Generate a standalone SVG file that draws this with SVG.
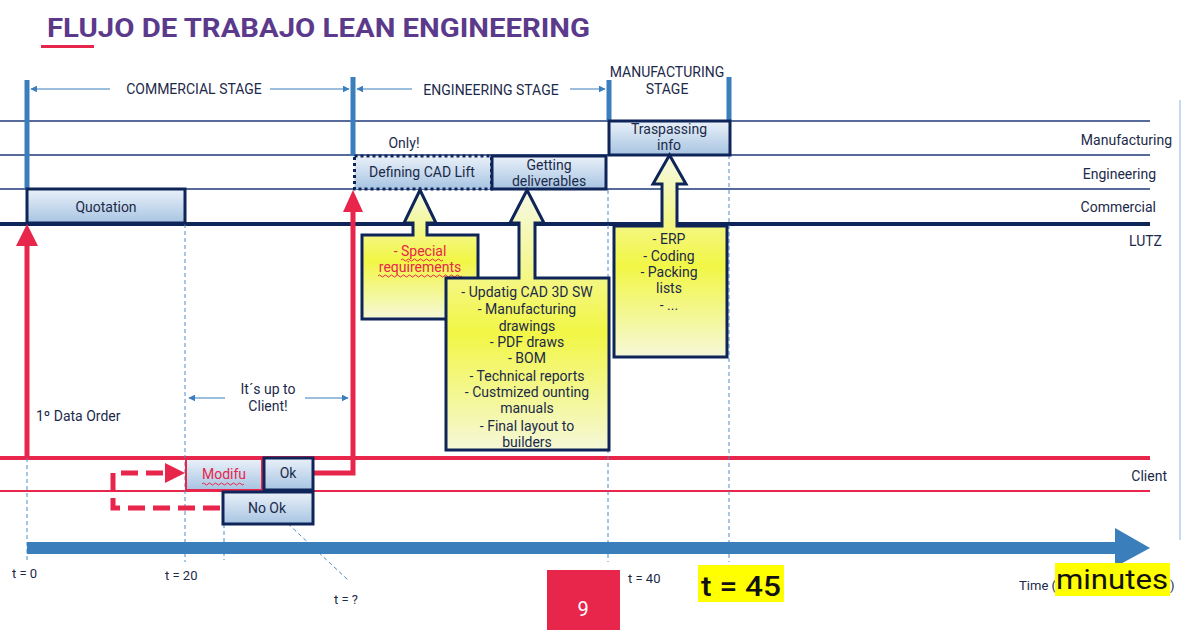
<svg xmlns="http://www.w3.org/2000/svg" width="1200" height="630" viewBox="0 0 1200 630">
<defs>
<linearGradient id="gBlue" x1="0" y1="0" x2="0" y2="1"><stop offset="0" stop-color="#EAF1F9"/><stop offset="1" stop-color="#A7C4E2"/></linearGradient>
<linearGradient id="gYel" x1="0" y1="0" x2="0" y2="1"><stop offset="0" stop-color="#F6F8E6"/><stop offset="0.55" stop-color="#F2F645"/><stop offset="1" stop-color="#F5F8D8"/></linearGradient>
<marker id="mh" viewBox="0 0 10 10" refX="9" refY="5" markerWidth="7" markerHeight="7" orient="auto-start-reverse" markerUnits="userSpaceOnUse"><path d="M0,0 L10,5 L0,10 Z" fill="#3A7EBB"/></marker>
<style>
text{font-family:Roboto,"Liberation Sans",sans-serif;fill:#1C2A4A;}
.t13{font-size:14px;text-anchor:middle;}
.lane{font-size:14px;text-anchor:end;}
.tm{font-size:13px;}
.lnav{stroke:#1F3A78;stroke-width:1.6;}
.box{fill:url(#gBlue);stroke:#0F2459;stroke-width:3;}
.call{fill:url(#gYel);stroke:#0F2459;stroke-width:3;}
.bar{stroke:#3A7EBB;stroke-width:5;}
.dash{stroke:#4A8CC8;stroke-width:1;stroke-dasharray:4 3;fill:none;}
.sarr{stroke:#3A7EBB;stroke-width:1.2;marker-end:url(#mh);}
.red{stroke:#E8254B;fill:none;}
.wavy{stroke:#E8254B;stroke-width:1;fill:none;}
</style>
</defs>
<rect width="1200" height="630" fill="#FFFFFF"/>
<!-- title -->
<text x="47" y="37" style="font-size:25px;font-weight:bold;fill:#5B3A8C" textLength="543" lengthAdjust="spacingAndGlyphs">FLUJO DE TRABAJO LEAN ENGINEERING</text>
<rect x="41" y="45" width="53" height="3" fill="#E8254B"/>
<line x1="1180" y1="100" x2="1180" y2="540" stroke="#8DB3DD" stroke-width="1"/>

<g id="lanes">
<line class="lnav" x1="0" y1="121" x2="1150" y2="121"/>
<line class="lnav" x1="0" y1="155" x2="1150" y2="155"/>
<line class="lnav" x1="0" y1="189" x2="1150" y2="189"/>
<line x1="0" y1="224" x2="1150" y2="224" stroke="#0F2459" stroke-width="4"/>
<line x1="0" y1="458" x2="1150" y2="458" stroke="#E8254B" stroke-width="4"/>
<line x1="0" y1="491" x2="1150" y2="491" stroke="#E8254B" stroke-width="2"/>
<text class="lane" x="1172" y="145">Manufacturing</text>
<text class="lane" x="1156" y="179">Engineering</text>
<text class="lane" x="1156" y="212">Commercial</text>
<text class="lane" x="1162" y="246">LUTZ</text>
<text class="lane" x="1167" y="481">Client</text>
</g>

<g id="guides">
<line class="dash" x1="27" y1="458" x2="27" y2="562"/>
<line class="dash" x1="185" y1="224" x2="185" y2="562"/>
<line class="dash" x1="224" y1="524" x2="224" y2="560"/>
<line class="dash" x1="608" y1="190" x2="608" y2="562"/>
<line class="dash" x1="729" y1="155" x2="729" y2="562"/>
<line class="dash" x1="283" y1="519" x2="348" y2="580"/>
</g>

<g id="stages">
<line class="bar" x1="27" y1="80" x2="27" y2="189"/>
<line class="bar" x1="353" y1="77" x2="353" y2="156"/>
<line class="bar" x1="609" y1="80" x2="609" y2="121"/>
<line class="bar" x1="729" y1="77" x2="729" y2="121"/>
<line class="sarr" x1="110" y1="89" x2="31" y2="89"/>
<line class="sarr" x1="270" y1="89" x2="349" y2="89"/>
<line class="sarr" x1="412" y1="89" x2="357" y2="89"/>
<line class="sarr" x1="570" y1="89" x2="605" y2="89"/>
<text class="t13" x="194" y="94">COMMERCIAL STAGE</text>
<text class="t13" x="491" y="95">ENGINEERING STAGE</text>
<text class="t13" x="667" y="77">MANUFACTURING</text>
<text class="t13" x="667" y="94">STAGE</text>
<text class="t13" x="404" y="148">Only!</text>
</g>

<g id="quotation">
<rect class="box" x="27" y="189" width="158" height="34"/>
<text class="t13" x="106" y="212">Quotation</text>
</g>
<g id="defining-cad">
<rect x="354.5" y="156" width="137" height="33" fill="url(#gBlue)" stroke="#0F2459" stroke-width="3" stroke-dasharray="3 3"/>
<text class="t13" x="422" y="177">Defining CAD Lift</text>
</g>
<g id="getting-deliverables">
<rect class="box" x="492" y="156" width="114" height="33"/>
<text class="t13" x="549" y="170">Getting</text>
<text class="t13" x="549" y="186">deliverables</text>
</g>
<g id="traspassing">
<rect class="box" x="609" y="121" width="121" height="34"/>
<text class="t13" x="669" y="134">Traspassing</text>
<text class="t13" x="669" y="150">info</text>
</g>

<g id="special-req">
<path class="call" d="M362,235 H413 V223 H404 L420,190 L436,223 H427 V235 H478 V319 H362 Z"/>
<text class="t13" x="420" y="256" style="fill:#E8254B">- Special</text>
<text class="t13" x="420" y="272" style="fill:#E8254B">requirements</text>
<path class="wavy" d="M401,260 q1.5,-2 3,0 t3,0 t3,0 t3,0 t3,0 t3,0 t3,0 t3,0 t3,0 t3,0 t3,0 t3,0 t3,0 t3,0"/>
<path class="wavy" d="M378,276 q1.5,-2 3,0 t3,0 t3,0 t3,0 t3,0 t3,0 t3,0 t3,0 t3,0 t3,0 t3,0 t3,0 t3,0 t3,0 t3,0 t3,0 t3,0 t3,0 t3,0 t3,0 t3,0 t3,0 t3,0 t3,0 t3,0 t3,0 t3,0 t3,0"/>
</g>
<g id="deliverables-list">
<path class="call" d="M446,278 H519 V223 H510 L527,190 L544,223 H535 V278 H609 V450 H446 Z"/>
<text class="t13" x="527" y="297">- Updatig CAD 3D SW</text>
<text class="t13" x="527" y="314">- Manufacturing</text>
<text class="t13" x="527" y="331">drawings</text>
<text class="t13" x="527" y="347">- PDF draws</text>
<text class="t13" x="527" y="363">- BOM</text>
<text class="t13" x="527" y="381">- Technical reports</text>
<text class="t13" x="527" y="397">- Custmized ounting</text>
<text class="t13" x="527" y="413">manuals</text>
<text class="t13" x="527" y="431">- Final layout to</text>
<text class="t13" x="527" y="447">builders</text>
</g>
<g id="erp-list">
<path class="call" d="M614,226 H662 V184 H653 L669.5,155 L686,184 H677 V226 H727 V357 H614 Z"/>
<text class="t13" x="669" y="244">- ERP</text>
<text class="t13" x="669" y="261">- Coding</text>
<text class="t13" x="669" y="277">- Packing</text>
<text class="t13" x="669" y="293">lists</text>
<text class="t13" x="669" y="310">- ...</text>
</g>

<g id="connectors">
<path class="red" d="M27,458 V242" stroke-width="5"/>
<path d="M16,246 L27,224 L38,246 Z" fill="#E8254B"/>
<path class="red" d="M313,473 H353 V210" stroke-width="5"/>
<path d="M343,212 L353,190 L363,212 Z" fill="#E8254B"/>
<path class="red" d="M220,508 H113 V473 H166" stroke-width="5" stroke-dasharray="17 8"/>
<path d="M165,463 L185,473 L165,483 Z" fill="#E8254B"/>
<line class="sarr" x1="225" y1="398" x2="189" y2="398"/>
<line class="sarr" x1="305" y1="398" x2="348" y2="398"/>
</g>
<text class="t13" x="268" y="394">It´s up to</text>
<text class="t13" x="268" y="411">Client!</text>
<text x="36" y="421" style="font-size:14px">1º Data Order</text>

<g id="modifu">
<rect x="186" y="459" width="76" height="31" fill="url(#gBlue)" stroke="#E8254B" stroke-width="2"/>
<text class="t13" x="224" y="479" style="fill:#E8254B">Modifu</text>
<path class="wavy" d="M202,484 q1.5,-2 3,0 t3,0 t3,0 t3,0 t3,0 t3,0 t3,0 t3,0 t3,0 t3,0 t3,0 t3,0 t3,0 t3,0"/>
</g>
<g id="ok">
<rect class="box" x="264" y="458" width="49" height="32"/>
<text class="t13" x="288" y="478">Ok</text>
</g>
<g id="nook">
<rect class="box" x="223" y="492" width="90" height="32"/>
<text class="t13" x="267" y="513">No Ok</text>
</g>

<g id="time-axis">
<rect x="27" y="542" width="1090" height="12" fill="#3A7EBB"/>
<path d="M1115,528 L1150,548 L1115,567 Z" fill="#3A7EBB"/>
<text class="tm" x="12" y="578">t = 0</text>
<text class="tm" x="165" y="580">t = 20</text>
<text class="tm" x="334" y="604">t = ?</text>
<text class="tm" x="628" y="583">t = 40</text>
<rect x="698" y="565" width="86" height="37" fill="#FFFF00"/>
<text x="741" y="596" style="font-size:28px;font-weight:500;text-anchor:middle;fill:#111" textLength="80" lengthAdjust="spacingAndGlyphs">t = 45</text>
<text class="tm" x="1056" y="590" style="text-anchor:end">Time (</text>
<rect x="1055" y="563" width="115" height="33" fill="#FFFF00"/>
<text x="1112" y="589" style="font-size:28px;text-anchor:middle;fill:#111" textLength="112" lengthAdjust="spacingAndGlyphs">minutes</text>
<text class="tm" x="1170" y="590">)</text>
</g>
<g id="page">
<rect x="547" y="570" width="73" height="60" fill="#E8254B"/>
<text x="583" y="616" style="font-size:20px;text-anchor:middle;fill:#FFFFFF">9</text>
</g>
</svg>
